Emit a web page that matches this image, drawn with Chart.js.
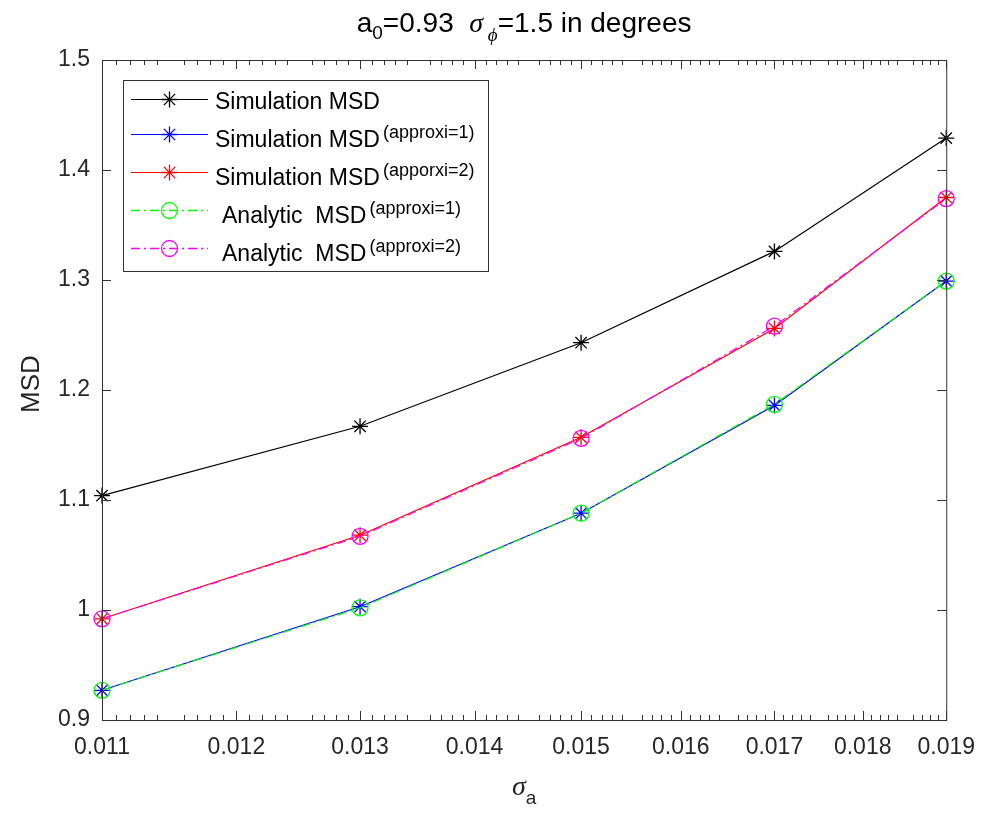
<!DOCTYPE html>
<html lang="en">
  <head>
    <meta charset="UTF-8" />
    <title>MSD vs sigma_a</title>
    <script src="https://cdn.jsdelivr.net/npm/chart.js@4.4.0/dist/chart.umd.min.js"></script>
    <style>
      html, body { margin: 0; padding: 0; background: #fff; }
      #wrap { width: 989px; height: 814px; }
    </style>
  </head>
  <body>
    <div id="wrap"><canvas id="msdChart" width="989" height="814"></canvas></div>
    <script>
      // sigma_a values on the x axis
      const sigmaA = [0.011, 0.013, 0.015, 0.017, 0.019];

      // series
      const simMSD = [1.104, 1.167, 1.243, 1.326, 1.429];
      const simApprox1 = [0.927, 1.003, 1.088, 1.186, 1.299];
      const simApprox2 = [0.992, 1.068, 1.157, 1.256, 1.375];
      const anaApprox1 = [0.927, 1.002, 1.088, 1.187, 1.299];
      const anaApprox2 = [0.992, 1.067, 1.156, 1.258, 1.374];

      // tick labels
      const xTicks = [0.011, 0.012, 0.013, 0.014, 0.015, 0.016, 0.017, 0.018, 0.019];
      const yTicks = [0.9, 1.0, 1.1, 1.2, 1.3, 1.4, 1.5];

      const SANS = "'Liberation Sans', Arial, sans-serif";
      const SERIF = "'Liberation Serif', 'DejaVu Serif', serif";
      const AXIS_COLOR = "#333333";
      const DASHDOT = [9, 4, 2, 4];

      const pts = (ys) => sigmaA.map((x, i) => ({ x: x, y: ys[i] }));

      const datasets = [
        { label: "Simulation MSD", sup: "", gap: 0, data: pts(simMSD), borderColor: "#000000", pointStyle: "star", dash: [] },
        { label: "Simulation MSD", sup: "(approxi=1)", gap: 0, data: pts(simApprox1), borderColor: "#0000ff", pointStyle: "star", dash: [] },
        { label: "Simulation MSD", sup: "(apporxi=2)", gap: 0, data: pts(simApprox2), borderColor: "#ff0000", pointStyle: "star", dash: [] },
        { label: "Analytic  MSD", sup: "(approxi=1)", gap: 7, data: pts(anaApprox1), borderColor: "#00ff00", pointStyle: "circle", dash: DASHDOT },
        { label: "Analytic  MSD", sup: "(approxi=2)", gap: 7, data: pts(anaApprox2), borderColor: "#ff00ff", pointStyle: "circle", dash: DASHDOT },
      ].map((d, i) => ({
        ...d,
        order: 10 - i, // later series painted on top, like the original
        borderWidth: 1.2,
        borderDash: d.dash,
        pointBorderColor: d.borderColor,
        pointBackgroundColor: "rgba(0,0,0,0)",
        pointBorderWidth: 1.3,
        pointRadius: 8,
        pointHoverRadius: 8,
        tension: 0,
        fill: false,
        clip: false,
      }));

      function drawRich(ctx, parts, x, y, align) {
        let w = 0;
        parts.forEach((p) => {
          ctx.font = p.font;
          p.w = ctx.measureText(p.t).width + (p.pad || 0);
          w += p.w;
        });
        let cx = align === "center" ? x - w / 2 : x;
        ctx.textAlign = "left";
        ctx.textBaseline = "alphabetic";
        parts.forEach((p) => {
          ctx.font = p.font;
          ctx.fillText(p.t, cx, y + (p.dy || 0));
          cx += p.w;
        });
      }

      const decorations = {
        id: "decorations",
        afterDatasetsDraw(chart) {
          const { ctx, chartArea: a, scales } = chart;
          ctx.save();
          ctx.strokeStyle = AXIS_COLOR;
          ctx.lineWidth = 1;
          // axes box
          ctx.strokeRect(a.left + 0.5, a.top + 0.5, a.right - a.left, a.bottom - a.top);
          ctx.beginPath();
          // x major ticks, bottom and top, pointing inward
          xTicks.forEach((v) => {
            const px = Math.round(scales.x.getPixelForValue(v)) + 0.5;
            ctx.moveTo(px, a.bottom); ctx.lineTo(px, a.bottom - 9);
            ctx.moveTo(px, a.top); ctx.lineTo(px, a.top + 9);
          });
          // x minor ticks (log axis)
          for (let k = 111; k < 190; k++) {
            if (k % 5 === 0) continue;
            const v = k / 10000;
            const px = Math.round(scales.x.getPixelForValue(v)) + 0.5;
            ctx.moveTo(px, a.bottom); ctx.lineTo(px, a.bottom - 5);
            ctx.moveTo(px, a.top); ctx.lineTo(px, a.top + 5);
          }
          // y ticks, left and right
          yTicks.forEach((v) => {
            const py = Math.round(scales.y.getPixelForValue(v)) + 0.5;
            ctx.moveTo(a.left, py); ctx.lineTo(a.left + 9, py);
            ctx.moveTo(a.right, py); ctx.lineTo(a.right - 9, py);
          });
          ctx.stroke();
          ctx.restore();
        },
        afterDraw(chart) {
          const { ctx, chartArea: a } = chart;
          ctx.save();
          ctx.fillStyle = "#000";
          // title
          drawRich(ctx, [
            { t: "a", font: `28px ${SANS}` },
            { t: "0", font: `19px ${SANS}`, dy: 7 },
            { t: "=0.93  ", font: `28px ${SANS}` },
            { t: "\u03c3", font: `italic 28px ${SERIF}` },
            { t: " \u03d5", font: `italic 19px ${SERIF}`, dy: 9 },
            { t: "=1.5 in degrees", font: `28px ${SANS}` },
          ], (a.left + a.right) / 2, 32, "center");

          // x axis label
          ctx.fillStyle = "#262626";
          drawRich(ctx, [
            { t: "\u03c3", font: `italic 28px ${SERIF}` },
            { t: "a", font: `19px ${SANS}`, dy: 9 },
          ], (a.left + a.right) / 2, 795, "center");

          // y axis label
          ctx.save();
          ctx.translate(39, (a.top + a.bottom) / 2 - 6);
          ctx.rotate(-Math.PI / 2);
          ctx.font = `26px ${SANS}`;
          ctx.textAlign = "center";
          ctx.textBaseline = "alphabetic";
          ctx.fillText("MSD", 0, 0);
          ctx.restore();

          // legend
          const lx = 123, ly = 80, lw = 365, lh = 191;
          ctx.fillStyle = "#fff";
          ctx.fillRect(lx, ly, lw, lh);
          ctx.strokeStyle = AXIS_COLOR;
          ctx.lineWidth = 1;
          ctx.strokeRect(lx + 0.5, ly + 0.5, lw, lh);
          const rows = [99, 134, 172, 210, 248];
          chart.data.datasets.forEach((d, i) => {
            const y = rows[i];
            ctx.save();
            ctx.strokeStyle = d.borderColor;
            ctx.fillStyle = "rgba(0,0,0,0)";
            ctx.lineWidth = d.borderDash.length ? 1.5 : d.borderWidth;
            ctx.setLineDash(d.borderDash);
            ctx.beginPath();
            ctx.moveTo(131, y + 0.5);
            ctx.lineTo(208, y + 0.5);
            ctx.stroke();
            ctx.setLineDash([]);
            ctx.lineWidth = d.pointBorderWidth;
            Chart.helpers.drawPoint(ctx, { pointStyle: d.pointStyle, radius: d.pointRadius, borderWidth: d.pointBorderWidth, rotation: 0 }, 169.5, y + 0.5);
            ctx.restore();
            ctx.fillStyle = "#000";
            const parts = [{ t: d.label, font: `23px ${SANS}`, dy: d.sup ? 13 : 10, pad: 3 }];
            if (d.sup) parts.push({ t: d.sup, font: `18px ${SANS}`, dy: 4 });
            drawRich(ctx, parts, 215 + d.gap, y, "left");
          });
          ctx.restore();
        },
      };

      new Chart(document.getElementById("msdChart"), {
        type: "line",
        data: { datasets: datasets },
        options: {
          responsive: false,
          animation: false,
          events: [],
          layout: { padding: { top: 60, right: 41, left: 0, bottom: 0 } },
          plugins: { legend: { display: false }, title: { display: false }, tooltip: { enabled: false } },
          scales: {
            x: {
              type: "logarithmic",
              min: 0.011,
              max: 0.019,
              afterBuildTicks: (scale) => { scale.ticks = xTicks.map((v) => ({ value: v })); },
              afterFit: (scale) => { scale.height = 94; },
              grid: { display: false, drawTicks: false },
              border: { display: false },
              ticks: {
                autoSkip: false,
                maxRotation: 0,
                padding: 14,
                color: "#262626",
                font: { family: SANS, size: 23 },
                callback: (v) => Number(v).toFixed(3),
              },
            },
            y: {
              type: "linear",
              min: 0.9,
              max: 1.5,
              afterBuildTicks: (scale) => { scale.ticks = yTicks.map((v) => ({ value: v })); },
              afterFit: (scale) => { scale.width = 102; },
              grid: { display: false, drawTicks: false },
              border: { display: false },
              ticks: {
                padding: 12,
                color: "#262626",
                font: { family: SANS, size: 23 },
                callback: (v) => (Math.round(v * 10) / 10).toString(),
              },
            },
          },
        },
        plugins: [decorations],
      });
    </script>
  </body>
</html>
